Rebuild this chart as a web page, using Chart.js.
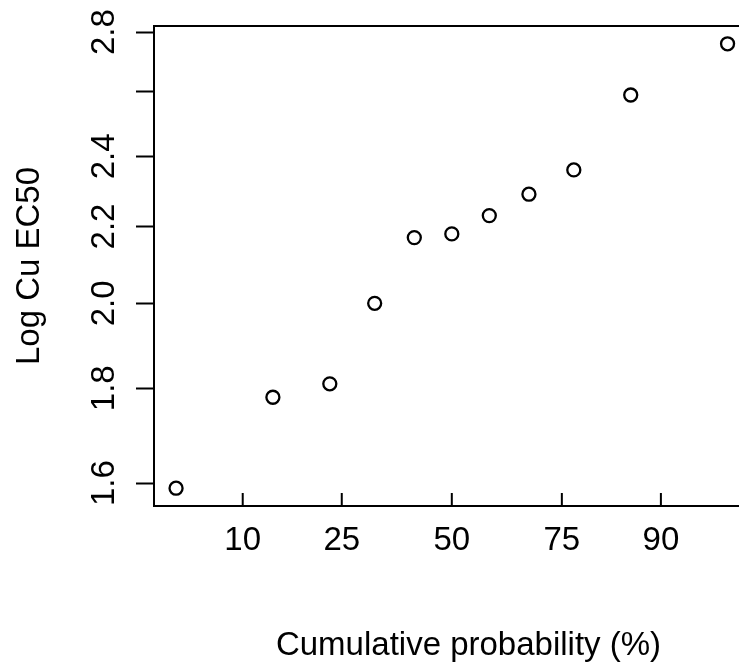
<!DOCTYPE html>
<html>
<head>
<meta charset="utf-8">
<script src="https://cdn.jsdelivr.net/npm/chart.js@4.4.1/dist/chart.umd.min.js"></script>
<style>
    html, body { margin: 0; padding: 0; background: #fff; overflow: hidden; }
    #contenedor { width: 800px; height: 662px; }
</style>
</head>
<body>
<div id="contenedor"><canvas id="grafico"></canvas></div>
<script>
// posiciones de graficado (%) y valores
const probAcumulada = [4.55, 13.64, 22.73, 31.82, 40.91, 50, 59.09, 68.18, 77.27, 86.36, 95.45];
const logCuEC50 = [1.59, 1.78, 1.81, 2.00, 2.17, 2.18, 2.23, 2.29, 2.36, 2.59, 2.76];

const xTicksPct = [10, 25, 50, 75, 90];
const xTickLabels = ['10', '25', '50', '75', '90'];
const yTicks = [1.6, 1.8, 2.0, 2.2, 2.4, 2.6, 2.8];
const yTickLabels = ['1.6', '1.8', '2.0', '2.2', '2.4', '', '2.8'];

const fuente = "'Liberation Sans', Arial, sans-serif";
const tam = 33;

// inversa de la normal (Acklam) para la escala de probabilidad
const probit = p => {
    const a = [-3.969683028665376e+01, 2.209460984245205e+02, -2.759285104469687e+02, 1.383577518672690e+02, -3.066479806614716e+01, 2.506628277459239e+00];
    const b = [-5.447609879822406e+01, 1.615858368580409e+02, -1.556989798598866e+02, 6.680131188771972e+01, -1.328068155288572e+01];
    const c = [-7.784894002430293e-03, -3.223964580411365e-01, -2.400758277161838e+00, -2.549732539343734e+00, 4.374664141464968e+00, 2.938163982698783e+00];
    const d = [7.784695709041462e-03, 3.224671290700398e-01, 2.445134137142996e+00, 3.754408661907416e+00];
    const pl = 0.02425;
    if (p < pl) {
        const q = Math.sqrt(-2 * Math.log(p));
        return (((((c[0] * q + c[1]) * q + c[2]) * q + c[3]) * q + c[4]) * q + c[5]) / ((((d[0] * q + d[1]) * q + d[2]) * q + d[3]) * q + 1);
    }
    if (p > 1 - pl) {
        const q = Math.sqrt(-2 * Math.log(1 - p));
        return -(((((c[0] * q + c[1]) * q + c[2]) * q + c[3]) * q + c[4]) * q + c[5]) / ((((d[0] * q + d[1]) * q + d[2]) * q + d[3]) * q + 1);
    }
    const q = p - 0.5, r = q * q;
    return (((((a[0] * r + a[1]) * r + a[2]) * r + a[3]) * r + a[4]) * r + a[5]) * q / (((((b[0] * r + b[1]) * r + b[2]) * r + b[3]) * r + b[4]) * r + 1);
};

const puntos = probAcumulada.map((p, i) => ({ x: probit(p / 100), y: logCuEC50[i] }));

// rango: 4% extra a la izquierda como R; el borde derecho queda fuera de la imagen
const xs = puntos.map(p => p.x);
const xMin = Math.min(...xs), xMax = Math.max(...xs);
const xExtra = (xMax - xMin) * 0.04;
const xLimSup = 2.03;
const ly = logCuEC50.map(v => Math.log10(v));
const lyMin = Math.min(...ly), lyMax = Math.max(...ly);
const lyExtra = (lyMax - lyMin) * 0.04;

const marco = {
    id: 'marco',
    afterDraw(chart) {
        const { ctx, chartArea: a, scales: { x } } = chart;
        ctx.save();
        ctx.strokeStyle = '#000';
        ctx.lineWidth = 2;
        ctx.strokeRect(a.left, a.top, a.right - a.left, a.bottom - a.top);
        ctx.beginPath();
        x.ticks.forEach(t => {
            const px = x.getPixelForValue(t.value);
            ctx.moveTo(px, a.bottom);
            ctx.lineTo(px, a.bottom - 13);
        });
        ctx.stroke();
        ctx.restore();
    }
};

const ctx = document.getElementById('grafico').getContext('2d');
new Chart(ctx, {
    type: 'scatter',
    data: {
        datasets: [{
            data: puntos,
            pointStyle: 'circle',
            pointRadius: 6.5,
            pointHoverRadius: 6.5,
            pointBorderWidth: 2.3,
            pointBorderColor: '#000',
            pointBackgroundColor: 'rgba(0,0,0,0)',
            borderColor: '#000',
            backgroundColor: 'rgba(0,0,0,0)'
        }]
    },
    options: {
        responsive: true,
        maintainAspectRatio: false,
        animation: false,
        layout: { padding: { top: 26, right: 17, left: 0, bottom: 0 } },
        plugins: {
            legend: { display: false },
            tooltip: { enabled: false }
        },
        scales: {
            x: {
                type: 'linear',
                bounds: 'data',
                min: xMin - xExtra,
                max: xLimSup,
                afterBuildTicks: scale => {
                    scale.ticks = xTicksPct.map(p => ({ value: probit(p / 100) }));
                },
                afterFit: scale => { scale.height = 156; },
                grid: { display: false },
                border: { display: false },
                ticks: {
                    autoSkip: false,
                    maxRotation: 0,
                    padding: 7,
                    color: '#000',
                    font: { family: fuente, size: tam },
                    callback: (v, i) => xTickLabels[i]
                },
                title: {
                    display: true,
                    text: 'Cumulative probability (%)',
                    color: '#000',
                    font: { family: fuente, size: tam },
                    padding: { top: 0, bottom: -4 }
                }
            },
            y: {
                type: 'logarithmic',
                bounds: 'data',
                min: Math.pow(10, lyMin - lyExtra),
                max: Math.pow(10, lyMax + lyExtra),
                afterBuildTicks: scale => {
                    scale.ticks = yTicks.map(v => ({ value: v }));
                },
                afterFit: scale => {
                    scale.width = 154;
                    scale.paddingTop = 0;
                    scale.paddingBottom = 0;
                },
                grid: {
                    drawOnChartArea: false,
                    drawTicks: true,
                    tickLength: 18,
                    tickWidth: 2,
                    tickColor: '#000'
                },
                border: { display: false },
                ticks: {
                    autoSkip: false,
                    minRotation: 90,
                    maxRotation: 90,
                    crossAlign: 'center',
                    padding: 8,
                    color: '#000',
                    font: { family: fuente, size: tam },
                    callback: (v, i) => yTickLabels[i]
                },
                title: {
                    display: true,
                    text: 'Log Cu EC50',
                    color: '#000',
                    font: { family: fuente, size: tam },
                    padding: { top: 10, bottom: 0 }
                }
            }
        }
    },
    plugins: [marco]
});
</script>
</body>
</html>
